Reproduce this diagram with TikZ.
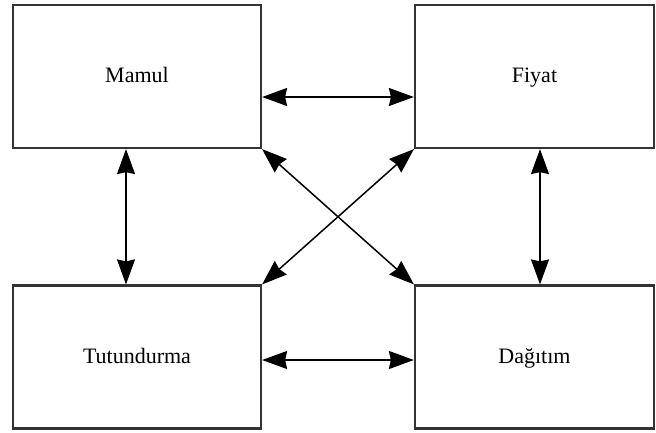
\documentclass[tikz,border=0pt]{standalone}
\usepackage{fontspec}
\setmainfont{Liberation Serif}
\usetikzlibrary{arrows.meta}
\begin{document}
\begin{tikzpicture}[x=1pt,y=-1pt,
  box/.style={draw=black!80,line width=2.2pt,minimum width=#1,minimum height=143pt,inner sep=0pt,font=\fontsize{22}{24}\selectfont,text=black,text height=15pt,text depth=3pt},
  tip/.tip={Stealth[length=25pt,width=18pt,inset=2pt]},
  link/.style={line width=1.5pt,draw=black,tip-tip}]
\useasboundingbox (0,0) rectangle (656,432);
\node[box=248pt] (m) at (137,76.5) {Mamul};
\node[box=239pt] (f) at (534.5,76.5) {Fiyat};
\node[box=248pt] (t) at (137,357) {Tutundurma};
\node[box=239pt] (d) at (534.5,357) {Dağıtım};
\draw[link] (m.east |- 0,97) -- (f.west |- 0,97);
\draw[link] (t.east |- 0,360) -- (d.west |- 0,360);
\draw[link] (m.south -| 126,0) -- (t.north -| 126,0);
\draw[link] (f.south -| 540,0) -- (d.north -| 540,0);
\draw[link] (m.south east) -- (d.north west);
\draw[link] (f.south west) -- (t.north east);
\end{tikzpicture}
\end{document}
